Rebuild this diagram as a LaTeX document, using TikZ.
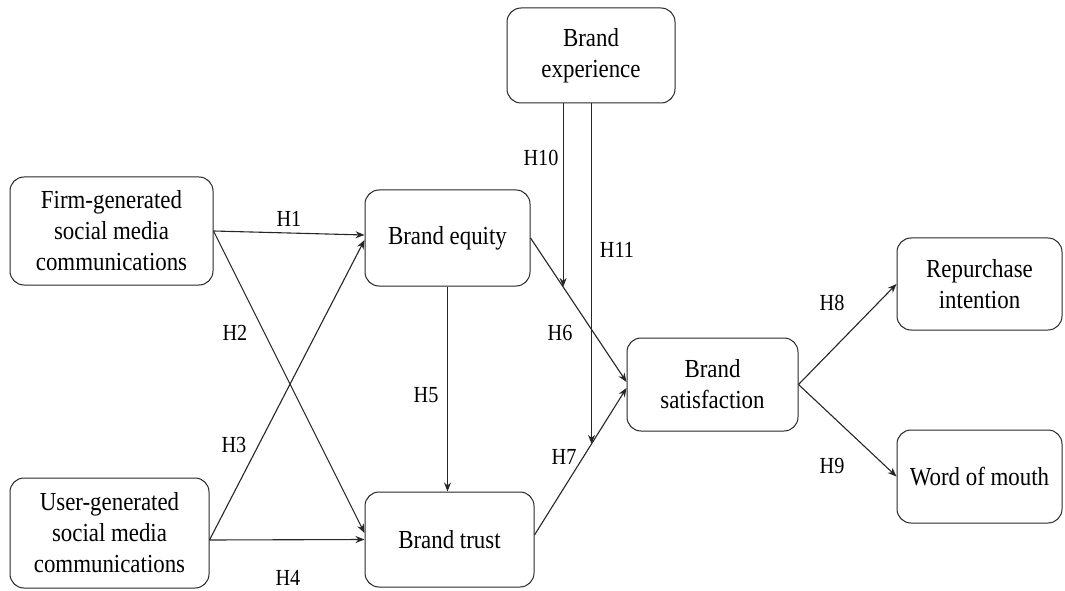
\documentclass[tikz,border=0pt]{standalone}
\usepackage{fontspec}
\setmainfont{Liberation Serif}[FakeStretch=0.88]
\usetikzlibrary{arrows.meta}
\begin{document}
\begin{tikzpicture}[x=1pt,y=1pt,
  box/.style={draw=black!85, rounded corners=14pt, line width=1pt, align=center,
    font=\fontsize{26}{31}\selectfont, inner sep=0pt},
  conn/.style={draw=black!85, line width=1.1pt, -{Stealth[length=9pt,width=7pt]}},
  hyp/.style={font=\fontsize{23}{23}\selectfont, inner sep=0pt}]
\useasboundingbox (0,0) rectangle (1065,590);
\node[box, minimum width=203pt, minimum height=108pt] (firm) at (111.5,359) {Firm-generated\\social media\\communications};
\node[box, minimum width=199pt, minimum height=110pt] (user) at (109.5,57) {User-generated\\social media\\communications};
\node[box, minimum width=165pt, minimum height=96pt] (equity) at (447.5,352) {Brand equity};
\node[box, minimum width=169pt, minimum height=95pt] (trust) at (449.5,50.5) {Brand trust};
\node[box, minimum width=168pt, minimum height=95pt] (exp) at (591,534.5) {Brand\\experience};
\node[box, minimum width=171pt, minimum height=93pt] (sat) at (712.5,205.5) {Brand\\satisfaction};
\node[box, minimum width=165pt, minimum height=92pt] (rep) at (979.5,306) {Repurchase\\intention};
\node[box, minimum width=165pt, minimum height=93pt] (wom) at (979.5,113.5) {Word of mouth};

\draw[conn] (firm.east) -- ([yshift=3pt]equity.west);
\draw[conn] (firm.east) -- ([yshift=6.5pt]trust.west);
\draw[conn] ([yshift=-7pt]user.east) -- ([yshift=-2pt]equity.west);
\draw[conn] ([yshift=-7pt]user.east) -- (trust.west);
\draw[conn] (equity.south) -- (equity.south |- trust.north);
\draw[conn] (equity.east) -- coordinate[pos=0.34] (m6) ([yshift=2.5pt]sat.west);
\draw[conn] ([yshift=4.5pt]trust.east) -- coordinate[pos=0.62] (m7) ([yshift=-3.5pt]sat.west);
\draw[conn] (m6 |- exp.south) -- (m6);
\draw[conn] (m7 |- exp.south) -- (m7);
\draw[conn] (sat.east) -- (rep.west);
\draw[conn] (sat.east) -- (wom.west);

\node[hyp] (h1) at (289,371) {H1};
\node[hyp] (h2) at (235,257) {H2};
\node[hyp] (h3) at (234,145) {H3};
\node[hyp] (h4) at (288,12) {H4};
\node[hyp] (h5) at (426,195) {H5};
\node[hyp] (h6) at (560,257) {H6};
\node[hyp] (h7) at (564,133) {H7};
\node[hyp] (h8) at (832,287) {H8};
\node[hyp] (h9) at (832,124) {H9};
\node[hyp] (h10) at (541,432) {H10};
\node[hyp] (h11) at (617,340) {H11};
\end{tikzpicture}
\end{document}
